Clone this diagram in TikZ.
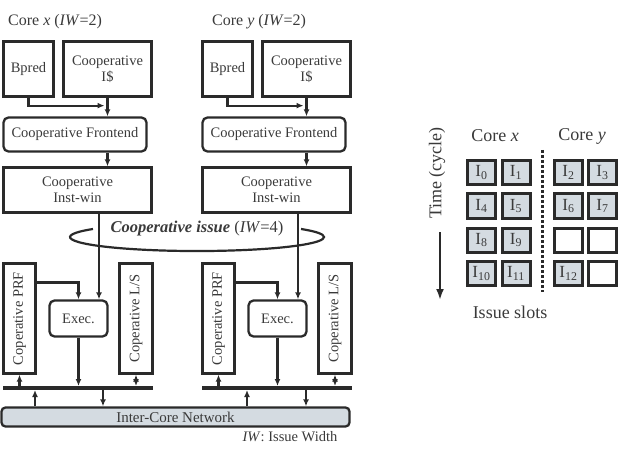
\documentclass[tikz,border=0pt]{standalone}
\usepackage{fontspec}
\setmainfont{Liberation Serif}
\usepackage{graphicx}
\usepackage{tikz}
\usetikzlibrary{arrows.meta}
\definecolor{linegray}{HTML}{2A2A2A}
\definecolor{textgray}{HTML}{3A3A3A}
\definecolor{netfill}{HTML}{D4DBE1}

\begin{document}
\begin{tikzpicture}[x=1pt, y=-1pt, >={Latex[length=7pt, width=6pt]},
    txt/.style={text=textgray, inner sep=0pt, font=\fontsize{14.5}{16}\selectfont},
    bigtxt/.style={text=textgray, inner sep=0pt, font=\fontsize{18}{20}\selectfont},
    box/.style={txt, draw=linegray, line width=2.3pt, align=center},
    rbox/.style={box, rounded corners=5pt},
    bus/.style={fill=linegray, inner sep=0pt, minimum height=3.6pt},
    arr/.style={->, draw=linegray, line width=2.2pt},
    slot/.style={draw=linegray, line width=3pt, fill=netfill, minimum width=28pt,
      minimum height=24pt, inner sep=0pt, text=textgray, font=\fontsize{17}{17}\selectfont}]
    \useasboundingbox (0,0) rectangle (634,449);
    \foreach \c/\ox/\lx/\up/\dn in {x/0/8/35/103, y/199/212/247/306} {
        \node [txt, anchor=west, font=\fontsize{16}{18}\selectfont] (core-\c) at (\lx,22) {Core \textit{\c} (\textit{IW}=2)};
        \node [box, minimum width=50pt, minimum height=55pt] (bpred-\c) at (28.5+\ox,69) {Bpred};
        \node [box, minimum width=88pt, minimum height=55pt] (icache-\c) at (107.5+\ox,69) {Cooperative\\I\$};
        \node [rbox, minimum width=143pt, minimum height=34pt] (front-\c) at (75+\ox,134.5) {Cooperative Frontend};
        \node [box, minimum width=148pt, minimum height=45pt] (inst-\c) at (77.5+\ox,190) {Cooperative\\Inst-win};
        \node [box, minimum width=32pt, minimum height=110pt] (prf-\c) at (19.5+\ox,318.5) {\rotatebox{90}{Coperative PRF}};
        \node [rbox, minimum width=58pt, minimum height=36pt] (exec-\c) at (78.5+\ox,318.5) {Exec.};
        \node [box, minimum width=33pt, minimum height=110pt] (ls-\c) at (136+\ox,318.5) {\rotatebox{90}{Coperative L/S}};
        \node [bus, minimum width=150pt] (bus-\c) at (78+\ox,388) {};
        \coordinate (up-\c) at (\up,398);
        \coordinate (dn-\c) at (\dn,398);
        \draw [arr] (bpred-\c.south) |- ([xshift=-3pt, yshift=-8pt]icache-\c.south);
        \draw [arr] (icache-\c.south) -- (icache-\c.south |- front-\c.north);
        \draw [arr] (icache-\c.south |- front-\c.south) -- (icache-\c.south |- inst-\c.north);
        \draw [arr] ([xshift=20.5pt]exec-\c.north |- inst-\c.south) -- ([xshift=20.5pt]exec-\c.north);
        \draw [arr] ([yshift=36pt]prf-\c.east) -| (exec-\c.north);
        \draw [arr] (exec-\c.south) -- (exec-\c.south |- bus-\c.north);
        \draw [arr] (prf-\c.south |- bus-\c.north) -- (prf-\c.south);
        \draw [arr, <->] (ls-\c.south |- bus-\c.north) -- (ls-\c.south);
    }
    \node [rbox, rounded corners=4pt, fill=netfill, minimum width=348pt, minimum height=19pt,
      font=\fontsize{15}{16}\selectfont] (net) at (175.5,417) {Inter-Core Network};
    \foreach \c in {x, y} {
        \draw [arr] (up-\c |- net.north) -- (up-\c |- bus-\c.south);
        \draw [arr] (dn-\c |- bus-\c.south) -- (dn-\c |- net.north);
    }
    \node [txt] (iw) at (290,437) {\textit{IW}: Issue Width};
    \node [txt, font=\fontsize{16.5}{18}\selectfont] (issue) at (197,229)
      {\textbf{\textit{Cooperative issue}} (\textit{IW}=4)};
    \draw [linegray, line width=2.2pt] (93,229) arc [start angle=145, end angle=395, x radius=127pt, y radius=14pt];

    \node [bigtxt, rotate=90] (time) at (437,173) {Time (cycle)};
    \coordinate (time-start) at (440,232);
    \coordinate (time-end) at (440,300);
    \draw [->, >={Latex[length=11pt, width=8pt]}, linegray, line width=2.6pt] (time-start) -- (time-end);
    \node [bigtxt] (head-x) at (495,136) {Core \textit{x}};
    \node [bigtxt] (head-y) at (582,136) {Core \textit{y}};
    \coordinate (sep-top) at (542,150);
    \coordinate (sep-bot) at (542,292);
    \draw [linegray, line width=3pt, dash pattern=on 3pt off 2pt] (sep-top) -- (sep-bot);
    \foreach \x/\y/\n in {481.5/172.5/0, 516/172.5/1, 568.5/172.5/2, 602.5/172.5/3,
                          481.5/206/4, 516/206/5, 568.5/206/6, 602.5/206/7,
                          481.5/240/8, 516/240/9,
                          481.5/273.5/10, 516/273.5/11, 568.5/273.5/12}
        \node [slot] (slot-\n) at (\x,\y) {I\textsubscript{\n}};
    \foreach \x/\y/\n in {568.5/240/a, 602.5/240/b, 602.5/273.5/c}
        \node [slot, fill=white] (empty-\n) at (\x,\y) {};
    \node [bigtxt] (slots) at (510,312) {Issue slots};
\end{tikzpicture}
\end{document}
